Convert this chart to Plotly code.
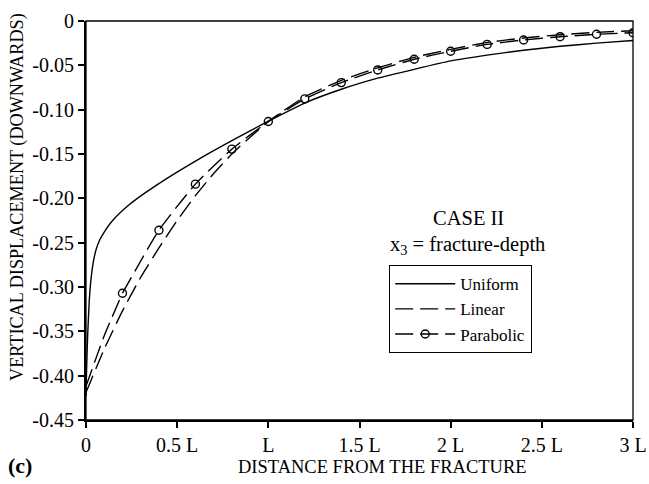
import plotly.graph_objects as go

# ---- data ----
uniform_x = [0, 0.003, 0.009, 0.018, 0.027, 0.04, 0.055, 0.075, 0.10, 0.146, 0.238,
             0.33, 0.44, 0.617, 0.8, 1.0, 1.2, 1.4, 1.6, 1.8, 2.0, 2.2, 2.4, 2.6, 2.8, 3.0]
uniform_y = [-0.423, -0.395, -0.355, -0.315, -0.292, -0.272, -0.258, -0.247, -0.238, -0.225,
             -0.207, -0.193, -0.178, -0.156, -0.135, -0.113, -0.0925, -0.077, -0.0645,
             -0.0545, -0.045, -0.0385, -0.033, -0.0285, -0.025, -0.022]

linear_x = [0, 0.1, 0.2, 0.3, 0.4, 0.5, 0.6, 0.7, 0.8, 0.9, 1.0, 1.2, 1.4, 1.6, 1.8, 2.0,
            2.2, 2.4, 2.6, 2.8, 3.0]
linear_y = [-0.419, -0.37, -0.327, -0.289, -0.256, -0.225, -0.197, -0.172, -0.150, -0.131,
            -0.1134, -0.0855, -0.0670, -0.0528, -0.0410, -0.0320, -0.0242, -0.0192, -0.0155,
            -0.0128, -0.0110]

parab_start_x = [0, 0.1, 0.2]
parab_start_y = [-0.412, -0.355, -0.307]
parab_x = [0.2, 0.4, 0.6, 0.8, 1.0, 1.2, 1.4, 1.6, 1.8, 2.0, 2.2, 2.4, 2.6, 2.8, 3.0]
parab_y = [-0.307, -0.236, -0.184, -0.1445, -0.1134, -0.0878, -0.0695, -0.0552, -0.0431,
           -0.0341, -0.0264, -0.0214, -0.0177, -0.0150, -0.0132]

x_tickvals = [0, 0.5, 1, 1.5, 2, 2.5, 3]
x_ticktext = ["0", "0.5 L", "L", "1.5 L", "2 L", "2.5 L", "3 L"]
y_tickvals = [0, -0.05, -0.10, -0.15, -0.20, -0.25, -0.30, -0.35, -0.40, -0.45]
y_ticktext = ["0", "-0.05", "-0.10", "-0.15", "-0.20", "-0.25", "-0.30", "-0.35", "-0.40", "-0.45"]

FONT = "Liberation Serif, Times New Roman, serif"
DASH = "18px,7px"
W, H = 649, 484
ML, MR, MT, MB = 86, 16, 21, 64

fig = go.Figure()
fig.add_trace(go.Scatter(x=uniform_x, y=uniform_y, mode="lines", name="Uniform",
                         line=dict(color="black", width=1.4, shape="spline", smoothing=0.5)))
fig.add_trace(go.Scatter(x=linear_x, y=linear_y, mode="lines", name="Linear",
                         line=dict(color="black", width=1.4, dash=DASH, shape="spline", smoothing=0.5)))
fig.add_trace(go.Scatter(x=parab_start_x, y=parab_start_y, mode="lines", showlegend=False,
                         line=dict(color="black", width=1.4, dash=DASH, shape="spline", smoothing=0.5)))
fig.add_trace(go.Scatter(x=parab_x, y=parab_y, mode="lines+markers", name="Parabolic",
                         line=dict(color="black", width=1.4, dash=DASH, shape="spline", smoothing=0.5),
                         marker=dict(symbol="circle-open", size=8, color="black",
                                     line=dict(width=1.4, color="black"))))

fig.update_layout(
    width=W, height=H,
    margin=dict(l=ML, r=MR, t=MT, b=MB, autoexpand=False),
    paper_bgcolor="white", plot_bgcolor="white",
    font=dict(family=FONT, color="black", size=17),
    legend=dict(x=(389 - ML) / (W - ML - MR), y=(H - MB - 265) / (H - MT - MB),
                xanchor="left", yanchor="top",
                bordercolor="black", borderwidth=1.2, bgcolor="white",
                font=dict(family=FONT, size=17, color="black"),
                itemwidth=60, tracegroupgap=0),
    showlegend=True,
)
fig.update_xaxes(range=[0, 3], tickvals=x_tickvals, ticktext=x_ticktext, automargin=False,
                 showgrid=False, zeroline=False, showline=True, linecolor="black", linewidth=2,
                 ticks="outside", ticklen=6, tickwidth=1.5, tickcolor="black",
                 tickfont=dict(family=FONT, size=20, color="black"))
fig.update_yaxes(range=[-0.45, 0], tickvals=y_tickvals, ticktext=y_ticktext, automargin=False,
                 showgrid=False, zeroline=False, showline=True, linecolor="black", linewidth=2,
                 ticks="outside", ticklen=6, tickwidth=1.5, tickcolor="black",
                 tickfont=dict(family=FONT, size=20, color="black"))

fig.add_shape(type="rect", xref="paper", yref="paper", x0=0, x1=1, y0=0, y1=1,
              line=dict(color="black", width=1.3), layer="above")


def px_ann(text, cx, cy, size, angle=0, bold=False):
    pw = W - ML - MR
    ph = H - MT - MB
    fx = (cx - ML) / pw
    fy = (H - MB - cy) / ph
    if bold:
        text = "<b>" + text + "</b>"
    fig.add_annotation(x=fx, y=fy, xref="paper", yref="paper", text=text, showarrow=False,
                       xanchor="center", yanchor="middle", textangle=angle,
                       font=dict(family=FONT, size=size, color="black"))


px_ann("CASE II", 468, 218, 20.5)
px_ann("x<sub>3</sub> = fracture-depth", 467, 245, 20.5)
px_ann("VERTICAL DISPLACEMENT (DOWNWARDS)", 17, 197, 18.2, angle=-90)
px_ann("DISTANCE FROM THE FRACTURE", 382, 467, 18.5)
px_ann("(c)", 20, 465, 22, bold=True)

fig.write_html("out.html")
